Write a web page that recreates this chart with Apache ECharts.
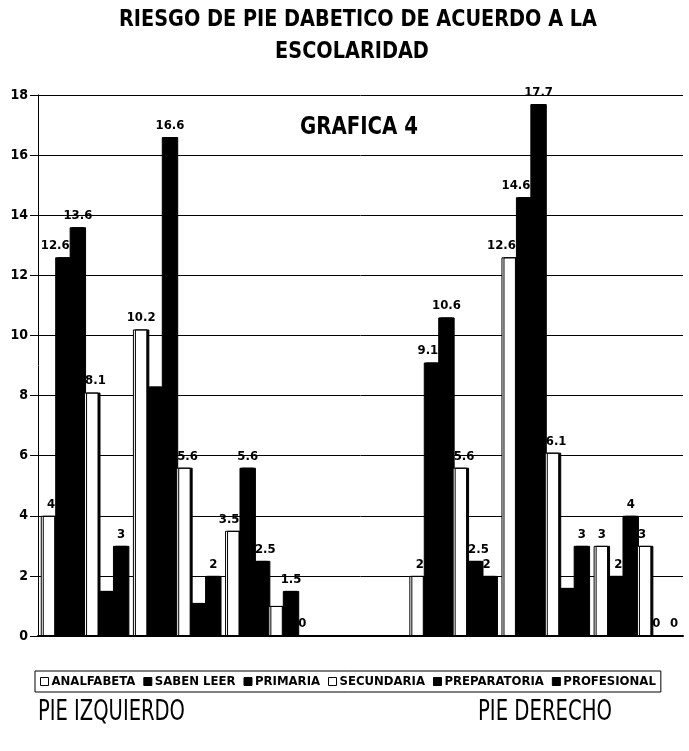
<!DOCTYPE html>
<html>
<head>
<meta charset="utf-8">
<script src="https://cdn.jsdelivr.net/npm/echarts@6/dist/echarts.min.js"></script>
<style>
  html, body { margin: 0; padding: 0; background: #fff; }
  #chart { width: 689px; height: 751px; }
</style>
</head>
<body>
<div id="chart"></div>
<script>
// Risk groups: three for the left foot, a spacer, three for the right foot
const categories = ['Izquierdo 1', 'Izquierdo 2', 'Izquierdo 3', '', 'Derecho 1', 'Derecho 2', 'Derecho 3'];

// Percentages per schooling level ('-' = spacer slot)
const analfabeta   = [4,    10.2, 3.5, '-', 2,    12.6, 3];
const sabenLeer    = [12.6, 8.3,  5.6, '-', 9.1,  14.6, 2];
const primaria     = [13.6, 16.6, 2.5, '-', 10.6, 17.7, 4];
const secundaria   = [8.1,  5.6,  1,   '-', 5.6,  6.1,  3];
const preparatoria = [1.5,  1.1,  1.5, '-', 2.5,  1.6,  0];
const profesional  = [3,    2,    0,   '-', 2,    3,    0];

const seriesNames = ['ANALFABETA', 'SABEN LEER', 'PRIMARIA', 'SECUNDARIA', 'PREPARATORIA', 'PROFESIONAL'];
const seriesData = [analfabeta, sabenLeer, primaria, secundaria, preparatoria, profesional];

// Y axis ticks
const yMin = 0, yMax = 18, yStep = 2;

// Labels that sit behind neighbouring columns are left out
const hiddenLabels = { 'SABEN LEER': [1], 'SECUNDARIA': [2], 'PREPARATORIA': [0, 1, 5] };
const whiteSeries = ['ANALFABETA', 'SECUNDARIA'];

// Plot box and bar geometry
const W = 689;
const GRID = { left: 38, right: 6, top: 95, bottom: 115 };
const CAT_GAP = 0.06;
const slotW = (W - GRID.left - GRID.right) / categories.length;
const barW = slotW * (1 - CAT_GAP) / seriesNames.length;

// Width of a string in a given CSS font, used to squeeze condensed captions
const measureCtx = document.createElement('canvas').getContext('2d');
function textWidth(text, font) {
  measureCtx.font = font;
  return measureCtx.measureText(text).width;
}
function fitScale(text, font, width) {
  return width / textWidth(text, font);
}

const COND = 'DejaVu Sans Condensed';

// Nudge a value label away from a taller neighbouring column
function labelFor(si, i) {
  const v = seriesData[si][i];
  const prev = si > 0 ? seriesData[si - 1][i] : -Infinity;
  const next = si < seriesData.length - 1 ? seriesData[si + 1][i] : -Infinity;
  if (next > v) return { align: 'right', offset: [barW / 2, 0] };
  if (prev > v) return { align: 'left', offset: [-barW / 2 + 1, 0] };
  return { align: 'center', offset: [1, 0] };
}

const chart = echarts.init(document.getElementById('chart'), null, { renderer: 'canvas' });

const series = seriesNames.map((name, si) => {
  const isWhite = whiteSeries.includes(name);
  const hidden = hiddenLabels[name] || [];
  return {
    name,
    type: 'bar',
    barGap: '0%',
    barCategoryGap: (CAT_GAP * 100) + '%',
    data: seriesData[si].map((v, i) => ({
      value: v,
      label: hidden.includes(i) ? { show: false } : labelFor(si, i)
    })),
    itemStyle: {
      color: isWhite ? '#ffffff' : '#000000',
      borderColor: '#000',
      borderWidth: 1,
      shadowColor: '#000',
      shadowOffsetX: 2,
      shadowOffsetY: 0,
      shadowBlur: 0
    },
    label: {
      show: true,
      position: 'top',
      color: '#000',
      fontFamily: COND,
      fontWeight: 'bold',
      fontSize: 13
    }
  };
});

// Caption fonts
const titleFont = 'bold 23px "' + COND + '"';
const title1 = 'RIESGO DE PIE DABETICO DE ACUERDO A LA';
const title2 = 'ESCOLARIDAD';
const titleScale = fitScale(title1, titleFont, 478);

const graficaFont = 'bold 24px "' + COND + '"';
const graficaScale = fitScale('GRAFICA 4', graficaFont, 118);

const footFont = '28px "' + COND + '"';
const izqScale = fitScale('PIE IZQUIERDO', footFont, 147);
const derScale = fitScale('PIE DERECHO', footFont, 134);

chart.setOption({
  backgroundColor: '#fff',
  animation: false,
  legend: {
    data: seriesNames.map(n => ({
      name: n,
      icon: 'rect',
      itemStyle: whiteSeries.includes(n)
        ? { color: '#fff', borderColor: '#000', borderWidth: 1 }
        : { color: '#000', borderColor: '#000', borderWidth: 1 }
    })),
    left: 35,
    top: 671,
    itemWidth: 8,
    itemHeight: 8,
    itemGap: 8,
    padding: [4, 5],
    borderColor: '#000',
    borderWidth: 1,
    textStyle: {
      fontFamily: COND,
      fontWeight: 'bold',
      fontSize: 13,
      color: '#000',
      padding: [0, 0, 0, -2]
    }
  },
  grid: GRID,
  xAxis: {
    type: 'category',
    data: categories,
    axisLine: { show: true, lineStyle: { color: '#000', width: 2 } },
    axisTick: { show: false },
    axisLabel: { show: false }
  },
  yAxis: {
    type: 'value',
    min: yMin,
    max: yMax,
    interval: yStep,
    axisLine: { show: true, lineStyle: { color: '#000', width: 1 } },
    axisTick: { show: true, length: 8, lineStyle: { color: '#000' } },
    axisLabel: {
      color: '#000',
      fontFamily: COND,
      fontWeight: 'bold',
      fontSize: 14,
      margin: 10
    },
    splitLine: { show: true, lineStyle: { color: '#000', width: 1 } }
  },
  graphic: [
    {
      type: 'text',
      x: 358,
      y: 9,
      scaleX: titleScale,
      style: { text: title1, font: titleFont, textAlign: 'center', fill: '#000' }
    },
    {
      type: 'text',
      x: 352,
      y: 41,
      scaleX: titleScale,
      style: { text: title2, font: titleFont, textAlign: 'center', fill: '#000' }
    },
    {
      type: 'text',
      x: 300,
      y: 116,
      scaleX: graficaScale,
      style: { text: 'GRAFICA 4', font: graficaFont, fill: '#000' }
    },
    {
      type: 'text',
      x: 38,
      y: 699,
      scaleX: izqScale,
      style: { text: 'PIE IZQUIERDO', font: footFont, fill: '#000' }
    },
    {
      type: 'text',
      x: 478,
      y: 699,
      scaleX: derScale,
      style: { text: 'PIE DERECHO', font: footFont, fill: '#000' }
    }
  ],
  series
});
</script>
</body>
</html>
